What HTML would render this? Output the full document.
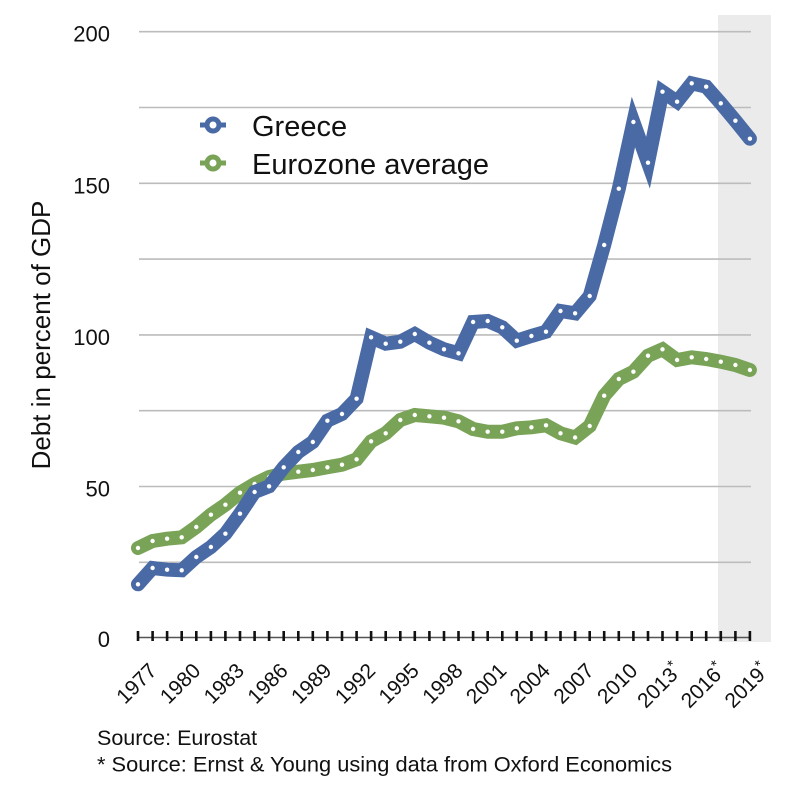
<!DOCTYPE html>
<html>
<head>
<meta charset="utf-8">
<style>
  html, body { margin: 0; padding: 0; background: #fff; }
  svg { display: block; }
  text { font-family: "Liberation Sans", Arial, sans-serif; fill: #111; }
</style>
</head>
<body>
<svg width="800" height="790" viewBox="0 0 800 790" xmlns="http://www.w3.org/2000/svg">
  <defs>
    <marker id="dot" viewBox="-3 -3 6 6" markerWidth="6" markerHeight="6" refX="0" refY="0" markerUnits="userSpaceOnUse">
      <circle cx="0" cy="0" r="2.2" fill="#ffffff"/>
    </marker>
  </defs>
  <rect x="0" y="0" width="800" height="790" fill="#ffffff"/>

  <!-- forecast band -->
  <rect x="718" y="15" width="53" height="627" fill="#ebebeb"/>

  <!-- gridlines -->
  <g stroke="#bcbcbc" stroke-width="1.6">
    <line x1="139" y1="31.7" x2="751" y2="31.7"/>
    <line x1="139" y1="107.5" x2="751" y2="107.5"/>
    <line x1="139" y1="183.3" x2="751" y2="183.3"/>
    <line x1="139" y1="259.1" x2="751" y2="259.1"/>
    <line x1="139" y1="334.9" x2="751" y2="334.9"/>
    <line x1="139" y1="410.7" x2="751" y2="410.7"/>
    <line x1="139" y1="486.5" x2="751" y2="486.5"/>
    <line x1="139" y1="562.3" x2="751" y2="562.3"/>
  </g>

  <!-- axis -->
  <line x1="138" y1="637.5" x2="750" y2="637.5" stroke="#555" stroke-width="1.6"/>
  <g stroke="#111" stroke-width="2.6">
    <line x1="138" y1="631" x2="138" y2="641"/><line x1="152.6" y1="631" x2="152.6" y2="641"/><line x1="167.1" y1="631" x2="167.1" y2="641"/><line x1="181.7" y1="631" x2="181.7" y2="641"/><line x1="196.3" y1="631" x2="196.3" y2="641"/><line x1="210.9" y1="631" x2="210.9" y2="641"/><line x1="225.4" y1="631" x2="225.4" y2="641"/><line x1="240" y1="631" x2="240" y2="641"/><line x1="254.6" y1="631" x2="254.6" y2="641"/><line x1="269.1" y1="631" x2="269.1" y2="641"/><line x1="283.7" y1="631" x2="283.7" y2="641"/><line x1="298.3" y1="631" x2="298.3" y2="641"/><line x1="312.8" y1="631" x2="312.8" y2="641"/><line x1="327.4" y1="631" x2="327.4" y2="641"/><line x1="342" y1="631" x2="342" y2="641"/><line x1="356.6" y1="631" x2="356.6" y2="641"/><line x1="371.1" y1="631" x2="371.1" y2="641"/><line x1="385.7" y1="631" x2="385.7" y2="641"/><line x1="400.3" y1="631" x2="400.3" y2="641"/><line x1="414.8" y1="631" x2="414.8" y2="641"/><line x1="429.4" y1="631" x2="429.4" y2="641"/><line x1="444" y1="631" x2="444" y2="641"/><line x1="458.5" y1="631" x2="458.5" y2="641"/><line x1="473.1" y1="631" x2="473.1" y2="641"/><line x1="487.7" y1="631" x2="487.7" y2="641"/><line x1="502.3" y1="631" x2="502.3" y2="641"/><line x1="516.8" y1="631" x2="516.8" y2="641"/><line x1="531.4" y1="631" x2="531.4" y2="641"/><line x1="546" y1="631" x2="546" y2="641"/><line x1="560.5" y1="631" x2="560.5" y2="641"/><line x1="575.1" y1="631" x2="575.1" y2="641"/><line x1="589.7" y1="631" x2="589.7" y2="641"/><line x1="604.2" y1="631" x2="604.2" y2="641"/><line x1="618.8" y1="631" x2="618.8" y2="641"/><line x1="633.4" y1="631" x2="633.4" y2="641"/><line x1="648" y1="631" x2="648" y2="641"/><line x1="662.5" y1="631" x2="662.5" y2="641"/><line x1="677.1" y1="631" x2="677.1" y2="641"/><line x1="691.7" y1="631" x2="691.7" y2="641"/><line x1="706.2" y1="631" x2="706.2" y2="641"/><line x1="720.8" y1="631" x2="720.8" y2="641"/><line x1="735.4" y1="631" x2="735.4" y2="641"/><line x1="749.9" y1="631" x2="749.9" y2="641"/>
  </g>

  <!-- y tick labels -->
  <g font-size="22" text-anchor="end">
    <text x="110" y="41.5">200</text>
    <text x="110" y="193.3">150</text>
    <text x="110" y="345">100</text>
    <text x="110" y="496.5">50</text>
    <text x="110" y="647">0</text>
  </g>

  <!-- y axis title -->
  <text transform="translate(50,335) rotate(-90)" font-size="26" text-anchor="middle">Debt in percent of GDP</text>

  <!-- x tick labels -->
  <g font-size="21" text-anchor="end">
    <text transform="translate(158,672) rotate(-45)">1977</text>
    <text transform="translate(201.7,672) rotate(-45)">1980</text>
    <text transform="translate(245.4,672) rotate(-45)">1983</text>
    <text transform="translate(289.1,672) rotate(-45)">1986</text>
    <text transform="translate(332.8,672) rotate(-45)">1989</text>
    <text transform="translate(376.6,672) rotate(-45)">1992</text>
    <text transform="translate(420.3,672) rotate(-45)">1995</text>
    <text transform="translate(464,672) rotate(-45)">1998</text>
    <text transform="translate(507.7,672) rotate(-45)">2001</text>
    <text transform="translate(551.4,672) rotate(-45)">2004</text>
    <text transform="translate(595.1,672) rotate(-45)">2007</text>
    <text transform="translate(638.8,672) rotate(-45)">2010</text>
    <text transform="translate(683,672) rotate(-45)">2013<tspan font-size="15" dy="-8">*</tspan></text>
    <text transform="translate(726.7,672) rotate(-45)">2016<tspan font-size="15" dy="-8">*</tspan></text>
    <text transform="translate(770.4,672) rotate(-45)">2019<tspan font-size="15" dy="-8">*</tspan></text>
  </g>

  <!-- Eurozone series -->
  <polyline fill="none" stroke="#79a357" stroke-width="14" stroke-linejoin="miter" stroke-linecap="round"
    marker-start="url(#dot)" marker-mid="url(#dot)" marker-end="url(#dot)"
    points="138,548 152.6,541 167.1,538.7 181.7,537.3 196.3,527 210.9,514.7 225.4,504.7 240,492.7 254.6,484 269.1,477 283.7,473.5 298.3,471.7 312.8,470 327.4,467.3 342,464.7 356.6,459.3 371.1,441.3 385.7,433.3 400.3,420 414.8,415 429.4,416.3 444,417.7 458.5,421.3 473.1,429 487.7,431.7 502.3,431.7 516.8,428.3 531.4,427.3 546,425.3 560.5,433.3 575.1,437.5 589.7,426 604.2,395.7 618.8,379 633.4,371.7 648,355.7 662.5,349.3 677.1,360 691.7,357.3 706.2,359 720.8,361.7 735.4,365 749.9,370"/>

  <!-- Greece series -->
  <polyline fill="none" stroke="#4a6aa5" stroke-width="14" stroke-linejoin="miter" stroke-linecap="round"
    marker-start="url(#dot)" marker-mid="url(#dot)" marker-end="url(#dot)"
    points="138,584.3 152.6,568 167.1,569.7 181.7,570.3 196.3,557 210.9,547 225.4,533.7 240,513.7 254.6,492 269.1,486.3 283.7,467.3 298.3,452 312.8,442 327.4,420.7 342,414 356.6,398.7 371.1,337.3 385.7,343.7 400.3,341.7 414.8,334 429.4,342.7 444,349.3 458.5,353.3 473.1,322 487.7,321 502.3,327.3 516.8,340.7 531.4,336 546,331.7 560.5,311 575.1,313.3 589.7,296 604.2,245 618.8,188.7 633.4,122 648,162.7 662.5,91.7 677.1,101.7 691.7,83.3 706.2,86.7 720.8,103.3 735.4,120.7 749.9,138.7"/>

  <!-- legend -->
  <line x1="200" y1="125" x2="226" y2="125" stroke="#4a6aa5" stroke-width="5"/>
  <circle cx="213" cy="125" r="6" fill="#fff" stroke="#4a6aa5" stroke-width="5"/>
  <text x="252" y="136" font-size="29">Greece</text>
  <line x1="200" y1="163" x2="226" y2="163" stroke="#79a357" stroke-width="5"/>
  <circle cx="213" cy="163" r="6" fill="#fff" stroke="#79a357" stroke-width="5"/>
  <text x="252" y="174" font-size="29">Eurozone average</text>

  <!-- sources -->
  <text x="97" y="745" font-size="21.5">Source: Eurostat</text>
  <text x="97" y="771.5" font-size="21.5" textLength="575" lengthAdjust="spacingAndGlyphs">* Source: Ernst &amp; Young using data from Oxford Economics</text>
</svg>
</body>
</html>
